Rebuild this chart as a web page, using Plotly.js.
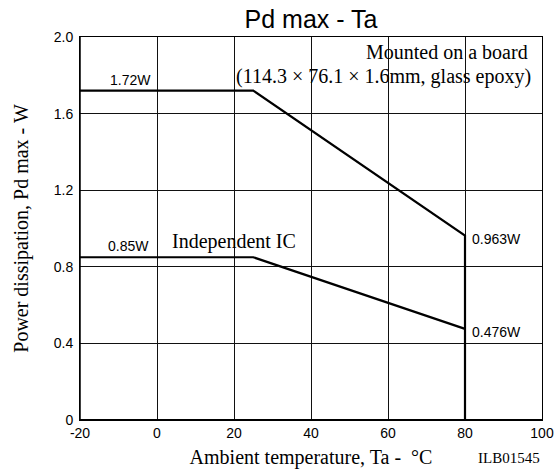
<!DOCTYPE html>
<html>
<head>
<meta charset="utf-8">
<script src="https://cdn.plot.ly/plotly-3.0.1.min.js"></script>
<style>html,body{margin:0;padding:0;background:#fff;}#chart{width:559px;height:470px;}</style>
</head>
<body>
<div id="chart"></div>
<script>
// Data
var taBoard = [-20, 25, 80, 80];
var pdBoard = [1.72, 1.72, 0.963, 0];
var taIC = [-20, 25, 80];
var pdIC = [0.85, 0.85, 0.476];
var xTicks = [-20, 0, 20, 40, 60, 80, 100];
var xTickText = ['-20', '0', '20', '40', '60', '80', '100'];
var yTicks = [0, 0.4, 0.8, 1.2, 1.6, 2.0];
var yTickText = ['0', '0.4', '0.8', '1.2', '1.6', '2.0'];

var traces = [
  {x: taBoard, y: pdBoard, mode: 'lines', line: {color: '#000', width: 2.2}, hoverinfo: 'skip'},
  {x: taIC, y: pdIC, mode: 'lines', line: {color: '#000', width: 2.2}, hoverinfo: 'skip'}
];

var times = 'Liberation Serif, Times New Roman, serif';
var arial = 'Liberation Sans, Arial, sans-serif';

var layout = {
  width: 559, height: 470,
  margin: {l: 80, r: 17, t: 37, b: 50},
  paper_bgcolor: '#fff', plot_bgcolor: '#fff',
  showlegend: false,
  title: {text: 'Pd max - Ta', font: {family: arial, size: 25, color: '#000'}, xref: 'paper', x: 0.5, xanchor: 'center', y: 0.958, yanchor: 'middle'},
  xaxis: {
    range: [-20, 100], tickvals: xTicks, ticktext: xTickText,
    showgrid: true, gridcolor: '#111', gridwidth: 1,
    zeroline: false, showline: true, linecolor: '#000', linewidth: 1, mirror: true,
    ticks: '', tickfont: {family: arial, size: 14, color: '#000'},
    title: {text: 'Ambient temperature, Ta -  °C', font: {family: times, size: 20, color: '#000'}, standoff: 10}
  },
  yaxis: {
    range: [0, 2.0], tickvals: yTicks, ticktext: yTickText,
    showgrid: true, gridcolor: '#111', gridwidth: 1,
    zeroline: false, showline: true, linecolor: '#000', linewidth: 1, mirror: true,
    ticks: '', ticklabelstandoff: 3, tickfont: {family: arial, size: 14, color: '#000'},
    title: {text: 'Power dissipation, Pd max - W', font: {family: times, size: 20, color: '#000'}, standoff: 19}
  },
  shapes: [
    {type: 'line', xref: 'paper', yref: 'paper', x0: 0, x1: 1, y0: 0, y1: 0, line: {color: '#000', width: 2}},
    {type: 'line', xref: 'paper', yref: 'paper', x0: 0, x1: 0, y0: 0, y1: 1, line: {color: '#000', width: 1.5}}
  ],
  annotations: [
    {x: -7, y: 1.72, xref: 'x', yref: 'y', text: '1.72W', showarrow: false, yanchor: 'bottom', yshift: 1, font: {family: arial, size: 14, color: '#000'}},
    {x: -7.3, y: 0.85, xref: 'x', yref: 'y', text: '0.85W', showarrow: false, yanchor: 'bottom', yshift: 1, font: {family: arial, size: 14, color: '#000'}},
    {x: 3.5, y: 0.93, xref: 'x', yref: 'y', text: 'Independent IC', showarrow: false, xanchor: 'left', yanchor: 'middle', font: {family: times, size: 20, color: '#000'}},
    {x: 81.3, y: 0.945, xref: 'x', yref: 'y', text: '0.963W', showarrow: false, xanchor: 'left', yanchor: 'middle', font: {family: arial, size: 14, color: '#000'}},
    {x: 81.3, y: 0.46, xref: 'x', yref: 'y', text: '0.476W', showarrow: false, xanchor: 'left', yanchor: 'middle', font: {family: arial, size: 14, color: '#000'}},
    {x: 96.8, y: 1.92, xref: 'x', yref: 'y', text: 'Mounted on a board', showarrow: false, xanchor: 'right', yanchor: 'middle', font: {family: times, size: 20, color: '#000'}},
    {x: 97.7, y: 1.796, xref: 'x', yref: 'y', text: '(114.3 × 76.1 × 1.6mm, glass epoxy)', showarrow: false, xanchor: 'right', yanchor: 'middle', font: {family: times, size: 20, color: '#000'}},
    {x: 1, y: -0.099, xref: 'paper', yref: 'paper', text: 'ILB01545', showarrow: false, xanchor: 'right', yanchor: 'middle', font: {family: times, size: 15, color: '#000'}}
  ]
};

Plotly.newPlot('chart', traces, layout, {displayModeBar: false, staticPlot: true});
</script>
</body>
</html>
